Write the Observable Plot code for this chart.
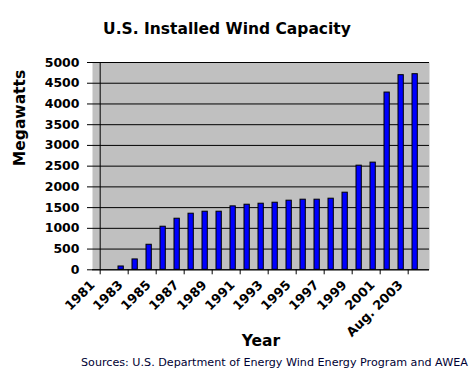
<!DOCTYPE html>
<html><head><meta charset="utf-8">
<script src="https://cdn.jsdelivr.net/npm/d3@7"></script>
<script src="https://cdn.jsdelivr.net/npm/@observablehq/plot@0.6"></script>
<style>
body{margin:0;background:#fff;}
#wrap{position:relative;width:475px;height:375px;overflow:hidden;background:#fff;}
#title{position:absolute;left:0;top:21px;width:454px;text-align:center;font-family:"DejaVu Sans";font-weight:bold;font-size:15.5px;line-height:16px;color:#000;white-space:nowrap;}
#chart{position:absolute;left:0;top:50px;}
#caption{position:absolute;left:81px;top:357px;font-family:"DejaVu Sans";font-size:11.15px;line-height:12px;color:#000033;white-space:nowrap;}
</style></head>
<body><div id="wrap"><div id="title">U.S. Installed Wind Capacity</div><div id="chart"></div><div id="caption">Sources: U.S. Department of Energy Wind Energy Program and AWEA</div></div>
<script>
const categories = ["1981","1982","1983","1984","1985","1986","1987","1988","1989","1990","1991","1992","1993","1994","1995","1996","1997","1998","1999","2000","2001","2002","Aug. 2003"];
const capacity = [0, 80, 250, 604, 1039, 1232, 1353, 1401, 1401, 1530, 1570, 1594, 1618, 1667, 1691, 1691, 1715, 1860, 2512, 2585, 4275, 4694, 4718];
const yTicks = [0, 500, 1000, 1500, 2000, 2500, 3000, 3500, 4000, 4500, 5000];
const labeledYears = ["1981","1983","1985","1987","1989","1991","1993","1995","1997","1999","2001","Aug. 2003"];
const yLabel = "Megawatts";
const xLabel = "Year";

const data = categories.map((c, i) => ({year: c, mw: capacity[i]}));
const W = 475, H = 305, mL = 92, mR = 46, mT = 12, mB = 85.7;
const bw = (W - mL - mR) / categories.length;

const plot = Plot.plot({
  width: W, height: H,
  marginLeft: mL, marginRight: mR, marginTop: mT, marginBottom: mB,
  style: {fontFamily: "DejaVu Sans", fontWeight: "bold", background: "transparent", color: "#000", overflow: "visible"},
  x: {type: "band", domain: categories, padding: 0, axis: null},
  y: {domain: [0, 5000], axis: null},
  marks: [
    Plot.frame({fill: "#c0c0c0", stroke: "none"}),
    Plot.gridY(yTicks, {stroke: "#000", strokeOpacity: 1, strokeWidth: 1}),
    Plot.barY(data, {x: "year", y: "mw", fill: "#0000ff", stroke: "#000", strokeWidth: 1, insetLeft: 4, insetRight: 4.7}),
    Plot.ruleX([categories[0]], {dx: -bw / 2, stroke: "#000"}),
    Plot.ruleY([0], {stroke: "#000"}),
    Plot.ruleX(labeledYears, {x: d => d, y1: 0, y2: 0, insetBottom: -5, dx: -bw / 2, stroke: "#000"}),
    Plot.axisY(yTicks, {tickSize: 5, tickPadding: 8, fontSize: 12.5, fontWeight: "bold", label: null, tickFormat: d => String(d)}),
    Plot.text(labeledYears, {x: d => d, text: d => d, frameAnchor: "bottom", rotate: -45, textAnchor: "end", dx: -12, dy: 16, fontSize: 12.8, fontWeight: "bold", fill: "#000"}),
    Plot.text([yLabel], {text: d => d, frameAnchor: "left", rotate: -90, dx: -72.5, fontSize: 15.5, fontWeight: "bold", fill: "#000"}),
    Plot.text([xLabel], {text: d => d, frameAnchor: "bottom", dy: 75.7, fontSize: 15.5, fontWeight: "bold", fill: "#000"})
  ]
});
document.getElementById("chart").appendChild(plot);
</script>
</body></html>
